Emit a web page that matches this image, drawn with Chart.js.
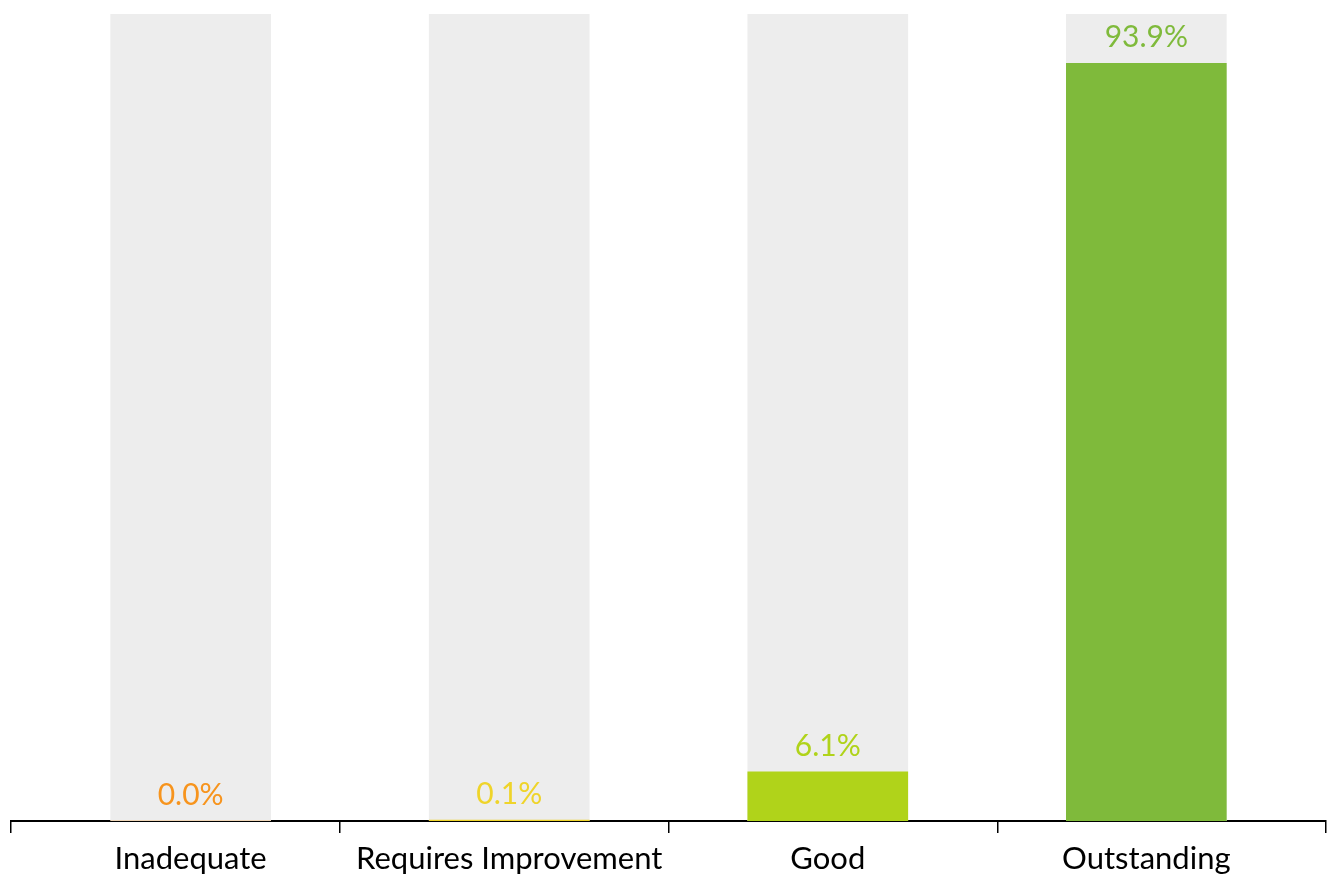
<!DOCTYPE html>
<html>
<head>
<meta charset="utf-8">
<script src="https://cdn.jsdelivr.net/npm/chart.js@4/dist/chart.umd.min.js"></script>
<style>
  html, body { margin: 0; padding: 0; background: #fff; }
  #wrap { width: 1336px; height: 878px; }
</style>
</head>
<body>
<div id="wrap"><canvas id="myChart"></canvas></div>
<script>
const categories = ['Inadequate', 'Requires Improvement', 'Good', 'Outstanding'];
const percentValues = [0.0, 0.1, 6.1, 93.9];
const backgroundValues = [100, 100, 100, 100];
const barColours = ['#F7941D', '#EFD42A', '#B0D31A', '#7FBA3B'];

// bars sit at index 0..3, the axis runs a bit past them on both sides
const xMin = -0.564;
const xMax = 3.564;

// value labels above each coloured bar
const valueLabels = {
  id: 'valueLabels',
  afterDatasetsDraw(chart) {
    const ctx = chart.ctx;
    const meta = chart.getDatasetMeta(1);
    ctx.save();
    ctx.font = '30px Lato';
    ctx.textAlign = 'center';
    ctx.textBaseline = 'alphabetic';
    meta.data.forEach((bar, i) => {
      ctx.fillStyle = barColours[i];
      ctx.fillText(percentValues[i].toFixed(1) + '%', bar.x, bar.y - 16);
    });
    ctx.restore();
  }
};

const isLabelTick = (v) => Math.abs(v - Math.round(v)) < 0.001 && v >= 0 && v <= 3;

new Chart(document.getElementById('myChart'), {
  type: 'bar',
  data: {
    datasets: [
      {
        label: 'background',
        data: backgroundValues.map((v, i) => ({ x: i, y: v })),
        backgroundColor: '#EDEDED',
        grouped: false,
        order: 2,
        barThickness: 160,
      },
      {
        label: 'Percentage',
        data: percentValues.map((v, i) => ({ x: i, y: v })),
        backgroundColor: barColours,
        grouped: false,
        order: 1,
        barThickness: 160,
      },
    ],
  },
  options: {
    responsive: true,
    maintainAspectRatio: false,
    animation: false,
    layout: { padding: { left: 11, right: 8, top: 14, bottom: -6 } },
    plugins: {
      legend: { display: false },
      tooltip: { enabled: false },
    },
    scales: {
      x: {
        type: 'linear',
        min: xMin,
        max: xMax,
        offset: false,
        afterBuildTicks: (scale) => {
          const ticks = [];
          // boundary marks, evenly spread along the axis
          for (let k = 0; k <= 4; k++) {
            ticks.push({ value: xMin + (k * (xMax - xMin)) / 4 });
          }
          // label positions under the bars
          categories.forEach((c, i) => ticks.push({ value: i }));
          ticks.sort((a, b) => a.value - b.value);
          scale.ticks = ticks;
        },
        grid: {
          offset: false,
          drawOnChartArea: false,
          color: (ctx) => (ctx.tick && isLabelTick(ctx.tick.value) ? 'rgba(0,0,0,0)' : '#000'),
          lineWidth: 1.5,
          tickLength: 12,
        },
        border: { color: '#000', width: 2 },
        ticks: {
          color: '#000',
          font: { family: 'Lato', size: 31, lineHeight: 1 },
          padding: 10,
          maxRotation: 0,
          autoSkip: false,
          callback: (value) => (isLabelTick(value) ? categories[Math.round(value)] : ''),
        },
      },
      y: {
        display: false,
        min: 0,
        max: 100,
      },
    },
  },
  plugins: [valueLabels],
});
</script>
</body>
</html>
